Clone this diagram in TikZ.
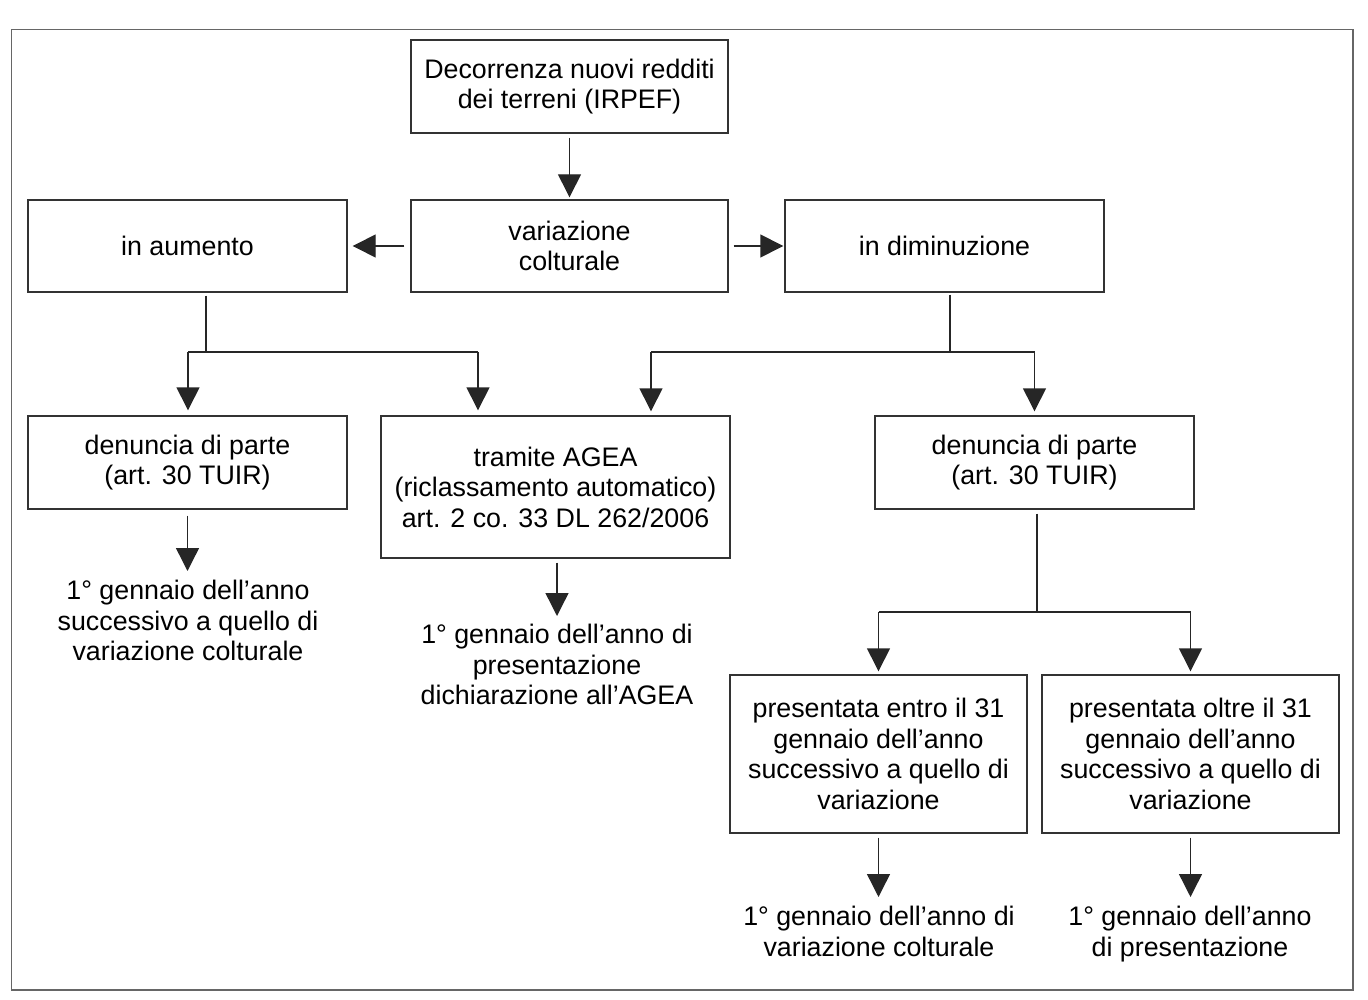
\documentclass[tikz,border=0pt]{standalone}
\usepackage{fontspec}
\setmainfont{Liberation Sans}
\usetikzlibrary{arrows.meta}
\begin{document}
\begin{tikzpicture}[x=1pt,y=-1pt]
\tikzset{
  txt/.style={font=\fontsize{26.8}{30.5}\selectfont},
  box/.style={txt,draw=black!80,line width=1.4pt,align=center,inner sep=0pt},
  lbl/.style={txt,align=center,inner sep=0pt,anchor=north},
  ln/.style={draw=black!85,line width=1.4pt},
  arr/.style={ln,-{Triangle[length=23pt,width=23pt]}},
  frame/.style={draw=black!60,line width=1.5pt}
}
\useasboundingbox (0,0) rectangle (1368,1000);
\draw[frame] (11.5,29.5) rectangle (1353,990);

\node[box,minimum width=317pt,minimum height=93pt] (dec) at (569.5,86.5) {Decorrenza nuovi redditi\\dei terreni (IRPEF)};
\node[box,minimum width=317pt,minimum height=92pt] (var) at (569.5,246) {variazione\\colturale};
\node[box,minimum width=319pt,minimum height=92pt] (aum) at (187.5,246) {in aumento};
\node[box,minimum width=319pt,minimum height=92pt] (dim) at (944.5,246) {in diminuzione};
\node[box,minimum width=319pt,minimum height=93pt] (den1) at (187.5,462.5) {denuncia di parte\\(art. 30 TUIR)};
\node[box,minimum width=349pt,minimum height=142pt] (agea) at (555.5,487) {tramite AGEA\\(riclassamento automatico)\\art. 2 co. 33 DL 262/2006};
\node[box,minimum width=319pt,minimum height=93pt] (den2) at (1034.5,462.5) {denuncia di parte\\(art. 30 TUIR)};
\node[box,minimum width=297pt,minimum height=158pt] (entro) at (878.5,754) {presentata entro il 31\\gennaio dell’anno\\successivo a quello di\\variazione};
\node[box,minimum width=297pt,minimum height=158pt] (oltre) at (1190.5,754) {presentata oltre il 31\\gennaio dell’anno\\successivo a quello di\\variazione};

\node[lbl] (t1) at (188,580) {1° gennaio dell’anno\\successivo a quello di\\variazione colturale};
\node[lbl] (t2) at (557,624) {1° gennaio dell’anno di\\presentazione\\dichiarazione all’AGEA};
\node[lbl] (t3) at (879,906) {1° gennaio dell’anno di\\variazione colturale};
\node[lbl] (t4) at (1190,906) {1° gennaio dell’anno\\di presentazione};

% top connectors
\draw[arr,shorten <=4pt,shorten >=2pt] (dec.south) -- (var.north);
\draw[arr,shorten <=6pt,shorten >=5pt] (var.west) -- (aum.east);
\draw[arr,shorten <=5pt,shorten >=1pt] (var.east) -- (dim.west);

% left branch
\coordinate (a0) at (206,352);
\coordinate (aL) at (188,352);
\coordinate (aR) at (478,352);
\draw[ln,shorten <=3pt] (a0 |- aum.south) -- (a0);
\draw[ln] (aL) -- (aR);
\draw[arr,shorten >=5pt] (aL) -- (aL |- den1.north);
\draw[arr,shorten >=5pt] (aR) -- (aR |- agea.north);

% right branch
\coordinate (d0) at (950,352);
\coordinate (dL) at (651,352);
\coordinate (dR) at (1034.5,352);
\draw[ln,shorten <=2pt] (d0 |- dim.south) -- (d0);
\draw[ln] (dL) -- (dR);
\draw[arr,shorten >=4pt] (dL) -- (dL |- agea.north);
\draw[arr,shorten >=4pt] (dR) -- (den2.north);

% sub branch
\coordinate (s0) at (1037,612);
\coordinate (sL) at (878.5,612);
\coordinate (sR) at (1190.5,612);
\draw[ln,shorten <=4pt] (s0 |- den2.south) -- (s0);
\draw[ln] (sL) -- (sR);
\draw[arr,shorten >=3pt] (sL) -- (entro.north);
\draw[arr,shorten >=3pt] (sR) -- (oltre.north);

% to outcomes
\draw[arr,shorten <=6pt,shorten >=9pt] (den1.south) -- (den1.south |- t1.north);
\draw[arr,shorten <=4pt,shorten >=8pt] (agea.south -| t2.north) -- (t2.north);
\draw[arr,shorten <=4pt,shorten >=9pt] (entro.south) -- (entro.south |- t3.north);
\draw[arr,shorten <=4pt,shorten >=9pt] (oltre.south) -- (oltre.south |- t4.north);
\end{tikzpicture}
\end{document}
